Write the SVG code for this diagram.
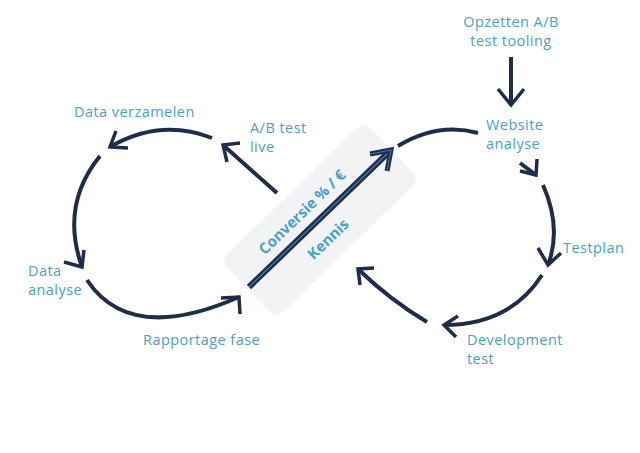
<svg xmlns="http://www.w3.org/2000/svg" width="640" height="453" viewBox="0 0 640 453">
<style>
.t{font-family:"Open Sans","Liberation Sans",sans-serif;font-size:14.5px;letter-spacing:0.45px;fill:#4a9fc9;}
.tb{font-family:"Open Sans","Liberation Sans",sans-serif;font-size:15px;font-weight:bold;fill:#4a9fc9;}
.c{fill:none;stroke:#1f2c4b;stroke-width:4;stroke-linecap:butt;stroke-linejoin:miter;}
.h{fill:none;stroke:#1f2c4b;stroke-width:3.5;stroke-linecap:butt;stroke-linejoin:miter;}
</style>
<rect width="640" height="453" fill="#ffffff"/>
<g id="center-box">
<rect x="220" y="180" width="200" height="80" rx="9" fill="#f2f3f4" transform="rotate(-44 320 220)"/>
</g>
<g id="connectors">
<path class="c" d="M212,138 Q160,118 110,147"/>
<path class="h" d="M128,148 L110,147 L116,131"/>
<path class="c" d="M100,156 Q60,205 82,267"/>
<path class="h" d="M64,262 L82,267 L84,250"/>
<path class="c" d="M87,280 Q130,345 239,297"/>
<path class="h" d="M221,298 L239,297 L240,314"/>
<path class="c" d="M277,193 L223,145"/>
<path class="h" d="M240,143 L223,145 L227,162"/>
<path class="c" d="M398,146 Q438,122 478,133"/>
<path class="c" d="M520,163 L536,175"/>
<path class="h" d="M537,159 L536,175 L520,171"/>
<path class="c" d="M543,185 Q562,228 548,265"/>
<path class="h" d="M538,248 L548,265 L561,253"/>
<path class="c" d="M542,275 Q510,325 444,325"/>
<path class="h" d="M458,316 L444,325 L456,337"/>
<path class="c" d="M427,322 Q390,300 358,269"/>
<path class="h" d="M374,268 L358,269 L360,285"/>
<path class="c" d="M511,57 L511,105"/>
<path class="h" d="M498,89 L511,105 L524,89"/>
<path d="M249,287 L390,151" stroke="#1f2c4b" stroke-width="6" fill="none"/>
<path d="M249,287 L390,151" stroke="#3f7fb0" stroke-width="1.2" fill="none"/>
<path d="M370,154 L391,150 L387,171" stroke="#1f2c4b" stroke-width="5" fill="none"/>
<path d="M370,154 L391,150 L387,171" stroke="#3f7fb0" stroke-width="1" fill="none"/>
</g>
<g id="labels">
<text class="tb" transform="translate(303,213) rotate(-44)" text-anchor="middle" dominant-baseline="middle">Conversie % / €</text>
<text class="tb" transform="translate(329,240) rotate(-44)" text-anchor="middle" dominant-baseline="middle">Kennis</text>
</g>
<g id="n-opzetten"><text class="t" x="511" y="27" text-anchor="middle">Opzetten A/B</text><text class="t" x="511" y="46" text-anchor="middle">test tooling</text></g>
<g id="n-website"><text class="t" x="486" y="130">Website</text><text class="t" x="486" y="148.5">analyse</text></g>
<g id="n-testplan"><text class="t" x="563" y="253">Testplan</text></g>
<g id="n-development"><text class="t" x="467" y="345">Development</text><text class="t" x="467" y="363.5">test</text></g>
<g id="n-rapportage"><text class="t" x="143" y="345">Rapportage fase</text></g>
<g id="n-data-analyse"><text class="t" x="28" y="276">Data</text><text class="t" x="28" y="295">analyse</text></g>
<g id="n-data-verzamelen"><text class="t" x="74" y="117">Data verzamelen</text></g>
<g id="n-ab-live"><text class="t" x="250" y="133">A/B test</text><text class="t" x="250" y="151.5">live</text></g>
</svg>
